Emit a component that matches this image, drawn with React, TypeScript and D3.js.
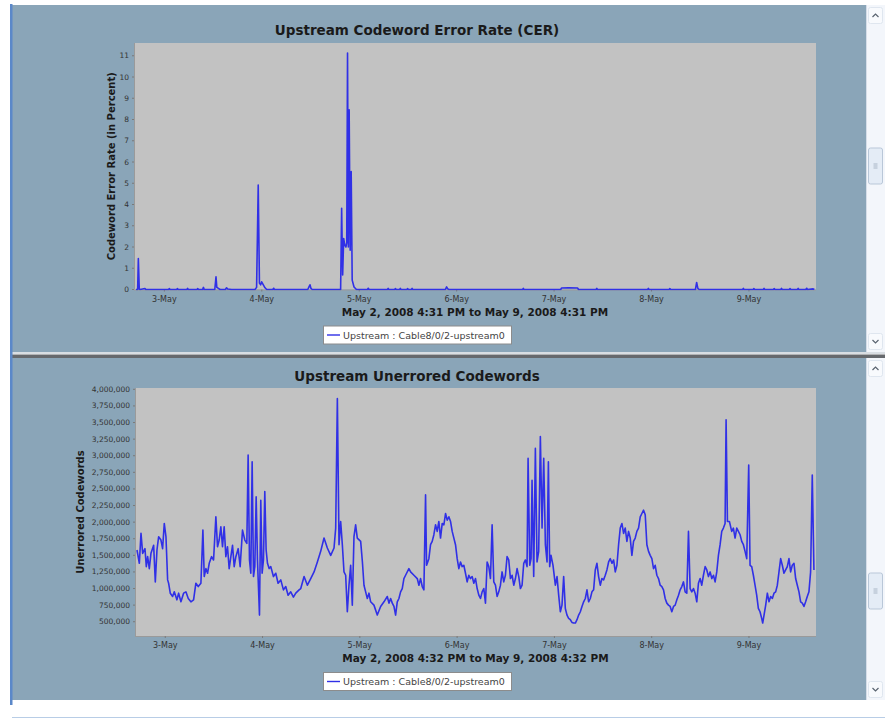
import React from "react";
import * as d3 from "d3";

const W = 885;
const H = 719;

// Both reports cover one week of polling.
const SPAN_HOURS = 168;
const CER_START = new Date(2008, 4, 2, 16, 31);
const CW_START = new Date(2008, 4, 2, 16, 32);

const DAY_TICKS = [3, 4, 5, 6, 7, 8, 9];
const CER_Y_TICKS = [0, 1, 2, 3, 4, 5, 6, 7, 8, 9, 10, 11];
const CW_Y_TICKS = [500000, 750000, 1000000, 1250000, 1500000, 1750000, 2000000, 2250000, 2500000, 2750000, 3000000, 3250000, 3500000, 3750000, 4000000];

const CER_TITLE = "Upstream Codeword Error Rate (CER)";
const CER_Y_LABEL = "Codeword Error Rate (in Percent)";
const CER_RANGE = "May 2, 2008 4:31 PM to May 9, 2008 4:31 PM";
const CW_TITLE = "Upstream Unerrored Codewords";
const CW_Y_LABEL = "Unerrored Codewords";
const CW_RANGE = "May 2, 2008 4:32 PM to May 9, 2008 4:32 PM";
const SERIES_NAME = "Upstream : Cable8/0/2-upstream0";

// [hours since start, error rate in percent]
const CER_SAMPLES: [number, number][] = [
  [0.5, 0], [0.9, 0], [1.07, 1.46], [1.3, 0.02], [1.5, 0], [2.7, 0.05], [2.9, 0],
  [8.5, 0], [8.7, 0.04], [8.9, 0], [10.5, 0], [10.7, 0.04], [10.9, 0], [13, 0], [13.2, 0.05], [13.4, 0],
  [15.5, 0], [15.7, 0.04], [15.9, 0], [16.9, 0], [17.1, 0.1], [17.3, 0], [19.9, 0], [20.2, 0.6],
  [20.4, 0.1], [20.8, 0.05], [21.2, 0], [22.5, 0], [22.8, 0.08], [23.1, 0.02], [24, 0],
  [29.8, 0], [30.2, 0.1], [30.6, 4.92], [30.9, 0.3], [31.2, 0.22], [31.45, 0.36], [31.86, 0.22],
  [32.27, 0.08], [32.7, 0], [34.2, 0], [34.4, 0.06], [34.6, 0], [42.8, 0], [43.1, 0.12], [43.35, 0.22],
  [43.6, 0.05], [43.9, 0], [50.9, 0], [51.15, 3.82], [51.4, 0.68], [51.65, 2.4], [51.9, 2.1],
  [52.2, 2.0], [52.4, 2.2], [52.6, 11.13], [52.8, 2.0], [53.0, 8.46], [53.25, 1.85], [53.5, 5.55],
  [53.75, 0.44], [54.2, 0.12], [54.8, 0], [57.5, 0], [57.7, 0.06], [57.9, 0], [62.4, 0], [62.6, 0.05],
  [62.8, 0], [64.2, 0], [64.4, 0.04], [64.6, 0], [65.4, 0], [65.6, 0.05], [65.8, 0], [67.2, 0],
  [67.4, 0.04], [67.6, 0], [68.3, 0], [68.5, 0.05], [68.7, 0], [76.7, 0], [77.0, 0.12], [77.3, 0.03],
  [77.6, 0], [95.7, 0], [95.9, 0.05], [96.1, 0], [105.1, 0], [105.3, 0.07], [107, 0.08], [109.3, 0.07],
  [109.5, 0], [113.8, 0], [114, 0.05], [114.2, 0], [126.5, 0], [126.7, 0.05], [126.9, 0], [131.8, 0],
  [132, 0.04], [132.2, 0], [138.3, 0], [138.6, 0.33], [138.9, 0.05], [139.2, 0], [149.9, 0],
  [150.1, 0.05], [150.3, 0], [152.5, 0], [152.7, 0.04], [152.9, 0], [155, 0], [155.2, 0.05], [155.4, 0],
  [157.5, 0], [157.7, 0.04], [157.9, 0], [159.3, 0], [159.5, 0.05], [159.7, 0], [161.4, 0],
  [161.6, 0.04], [161.8, 0], [163.4, 0], [163.6, 0.05], [163.8, 0], [165.5, 0], [165.7, 0.06],
  [165.9, 0], [167.3, 0.03], [167.6, 0],
];

// [hours since start, unerrored codewords]
const CODEWORD_SAMPLES: [number, number][] = [
  [0.49, 1.58e6], [1.07, 1.38e6], [1.48, 1.83e6], [1.89, 1.53e6], [2.46, 1.6e6], [2.79, 1.33e6],
  [3.12, 1.48e6], [3.53, 1.3e6], [3.94, 1.53e6], [4.6, 1.65e6], [5.01, 1.1e6], [5.42, 1.58e6],
  [5.83, 1.78e6], [6.4, 1.73e6], [6.81, 1.6e6], [7.22, 1.98e6], [7.64, 1.78e6], [8.05, 1.13e6],
  [8.29, 1.08e6], [8.7, 0.93e6], [9.28, 0.88e6], [9.69, 0.95e6], [10.34, 0.83e6], [10.76, 0.93e6],
  [11.33, 0.8e6], [11.99, 0.93e6], [12.56, 0.95e6], [13.14, 0.85e6], [13.79, 0.8e6], [14.45, 0.83e6],
  [15.02, 1.08e6], [15.6, 1.03e6], [16.26, 1.08e6], [16.75, 1.88e6], [17.08, 1.18e6], [17.49, 1.3e6],
  [17.9, 1.23e6], [18.31, 1.38e6], [18.88, 1.48e6], [19.38, 1.43e6], [19.95, 2.08e6], [20.36, 1.63e6],
  [20.77, 1.73e6], [21.18, 1.93e6], [21.59, 1.63e6], [22.0, 1.93e6], [22.41, 1.48e6], [22.82, 1.63e6],
  [23.23, 1.3e6], [23.65, 1.48e6], [24.06, 1.65e6], [24.47, 1.33e6], [24.88, 1.48e6], [25.45, 1.6e6],
  [25.94, 1.33e6], [26.52, 1.88e6], [27.09, 1.73e6], [27.59, 1.68e6], [27.91, 3.01e6], [28.24, 1.43e6],
  [28.57, 1.23e6], [28.9, 2.91e6], [29.23, 1.18e6], [29.56, 1.33e6], [29.89, 2.38e6], [30.21, 1.43e6],
  [30.71, 0.6e6], [31.03, 2.33e6], [31.36, 1.23e6], [31.69, 1.43e6], [32.02, 2.46e6], [32.35, 1.58e6],
  [32.68, 1.38e6], [33.09, 1.3e6], [33.5, 1.33e6], [34.15, 1.18e6], [34.73, 1.23e6], [35.3, 1.08e6],
  [35.96, 1.13e6], [36.62, 0.98e6], [37.19, 1.03e6], [37.77, 0.9e6], [38.42, 0.95e6], [39.08, 0.87e6],
  [39.66, 0.93e6], [40.48, 0.98e6], [40.89, 1.0e6], [41.71, 1.18e6], [42.53, 1.05e6], [43.35, 1.15e6],
  [44.17, 1.25e6], [44.99, 1.4e6], [45.81, 1.56e6], [46.63, 1.76e6], [47.45, 1.61e6], [48.28, 1.5e6],
  [49.1, 1.61e6], [49.51, 1.91e6], [49.92, 3.86e6], [50.33, 1.66e6], [50.74, 2.01e6], [51.15, 1.66e6],
  [51.56, 1.25e6], [51.97, 1.2e6], [52.38, 0.65e6], [52.79, 1.05e6], [53.2, 1.35e6], [53.61, 0.75e6],
  [54.02, 1.78e6], [54.43, 1.96e6], [54.84, 1.76e6], [55.67, 1.71e6], [56.1, 1.4e6], [56.49, 1.05e6],
  [56.9, 0.95e6], [57.31, 0.85e6], [57.72, 0.93e6], [58.13, 0.8e6], [58.95, 0.75e6], [59.77, 0.6e6],
  [60.6, 0.73e6], [61.42, 0.8e6], [62.24, 0.88e6], [62.65, 0.78e6], [63.06, 0.85e6], [63.47, 0.78e6],
  [63.88, 0.73e6], [64.29, 0.6e6], [64.7, 0.8e6], [65.11, 0.85e6], [65.52, 0.95e6], [65.93, 1.0e6],
  [66.34, 1.15e6], [66.75, 1.2e6], [67.57, 1.3e6], [67.99, 1.25e6], [68.81, 1.2e6], [69.63, 1.15e6],
  [70.04, 1.05e6], [70.45, 1.15e6], [70.86, 1.03e6], [71.27, 0.98e6], [71.68, 2.41e6], [71.93, 1.35e6],
  [72.5, 1.45e6], [72.91, 1.66e6], [73.32, 1.71e6], [73.73, 1.81e6], [74.14, 1.96e6], [74.55, 1.86e6],
  [74.96, 2.01e6], [75.37, 1.76e6], [75.79, 1.98e6], [76.2, 1.96e6], [76.61, 2.13e6], [77.02, 2.03e6],
  [77.43, 2.08e6], [77.84, 2.01e6], [78.25, 1.86e6], [79.07, 1.66e6], [79.48, 1.45e6], [79.89, 1.3e6],
  [80.3, 1.4e6], [80.71, 1.33e6], [81.12, 1.35e6], [81.53, 1.23e6], [81.94, 1.1e6], [82.35, 1.2e6],
  [82.76, 1.15e6], [83.17, 1.18e6], [83.59, 1.08e6], [84.0, 1.15e6], [84.41, 1.0e6], [84.82, 0.9e6],
  [85.23, 0.85e6], [85.64, 0.95e6], [86.05, 1.0e6], [86.46, 0.78e6], [86.87, 1.4e6], [87.28, 1.33e6],
  [87.69, 1.15e6], [88.1, 1.96e6], [88.51, 1.1e6], [88.92, 1.05e6], [89.33, 0.88e6], [89.74, 0.95e6],
  [90.15, 1.05e6], [90.56, 1.25e6], [90.97, 1.1e6], [91.38, 1.2e6], [91.79, 1.48e6], [92.2, 1.43e6],
  [92.62, 1.15e6], [93.03, 1.2e6], [93.44, 1.05e6], [93.85, 1.15e6], [94.26, 1.3e6], [94.67, 1.18e6],
  [95.08, 1.0e6], [95.49, 1.05e6], [95.9, 1.38e6], [96.31, 1.43e6], [96.72, 1.33e6], [96.97, 2.96e6],
  [97.38, 1.35e6], [97.71, 1.45e6], [97.95, 2.63e6], [98.36, 1.18e6], [98.77, 3.11e6], [99.18, 1.4e6],
  [99.59, 1.56e6], [100.0, 3.29e6], [100.42, 1.91e6], [100.83, 2.96e6], [101.24, 1.66e6], [101.65, 1.4e6],
  [101.98, 2.91e6], [102.3, 1.33e6], [102.63, 1.5e6], [103.12, 1.35e6], [103.7, 1.05e6], [104.11, 1.18e6],
  [104.52, 0.9e6], [104.93, 0.65e6], [105.34, 0.75e6], [105.75, 1.18e6], [106.16, 0.7e6], [106.57, 0.6e6],
  [106.98, 0.55e6], [107.39, 0.53e6], [107.8, 0.49e6], [108.21, 0.48e6], [108.63, 0.48e6], [109.04, 0.53e6],
  [109.45, 0.6e6], [109.86, 0.65e6], [110.27, 0.73e6], [110.68, 0.8e6], [111.09, 0.85e6], [111.5, 0.98e6],
  [111.91, 0.8e6], [112.32, 0.85e6], [112.73, 0.95e6], [113.14, 0.98e6], [113.55, 1.28e6], [113.96, 1.38e6],
  [114.37, 1.18e6], [114.78, 1.05e6], [115.19, 1.15e6], [115.6, 1.13e6], [116.01, 1.2e6], [116.42, 1.28e6],
  [116.84, 1.4e6], [117.25, 1.45e6], [117.66, 1.38e6], [118.07, 1.43e6], [118.48, 1.25e6], [118.89, 1.35e6],
  [119.3, 1.66e6], [119.71, 1.91e6], [120.12, 1.98e6], [120.53, 1.83e6], [120.94, 1.91e6], [121.35, 1.71e6],
  [121.76, 1.86e6], [122.17, 1.76e6], [122.58, 1.5e6], [122.99, 1.71e6], [123.4, 1.76e6], [123.81, 1.86e6],
  [124.22, 1.91e6], [124.64, 2.08e6], [125.05, 2.13e6], [125.46, 2.18e6], [125.87, 2.11e6], [126.28, 1.66e6],
  [126.69, 1.56e6], [127.1, 1.5e6], [127.51, 1.45e6], [127.92, 1.3e6], [128.33, 1.35e6], [128.74, 1.2e6],
  [129.15, 1.15e6], [129.56, 1.05e6], [129.97, 1.03e6], [130.38, 0.98e6], [130.79, 0.85e6], [131.2, 0.78e6],
  [131.61, 0.75e6], [132.02, 0.73e6], [132.43, 0.65e6], [132.85, 0.73e6], [133.26, 0.75e6], [133.67, 0.83e6],
  [134.08, 0.9e6], [134.49, 0.98e6], [134.9, 1.03e6], [135.31, 1.1e6], [135.72, 0.95e6], [136.13, 0.93e6],
  [136.54, 1.86e6], [136.95, 1.0e6], [137.36, 0.95e6], [137.77, 1.0e6], [138.18, 0.93e6], [138.59, 0.8e6],
  [139.0, 1.08e6], [139.41, 1.15e6], [139.82, 1.05e6], [140.23, 1.2e6], [140.65, 1.33e6], [141.06, 1.28e6],
  [141.47, 1.18e6], [141.88, 1.25e6], [142.29, 1.15e6], [142.7, 1.2e6], [143.11, 1.1e6], [143.52, 1.25e6],
  [143.93, 1.5e6], [144.34, 1.66e6], [144.75, 1.86e6], [145.16, 1.91e6], [145.57, 1.98e6], [145.82, 3.54e6],
  [146.15, 2.01e6], [146.64, 2.01e6], [147.21, 1.86e6], [147.62, 1.91e6], [148.03, 1.76e6], [148.45, 1.91e6],
  [148.86, 1.86e6], [149.27, 1.81e6], [149.68, 1.71e6], [150.09, 1.66e6], [150.5, 1.56e6], [150.91, 1.45e6],
  [151.4, 2.86e6], [151.73, 1.35e6], [152.14, 1.33e6], [152.55, 1.2e6], [152.96, 1.05e6], [153.37, 0.9e6],
  [153.78, 0.7e6], [154.19, 0.65e6], [154.6, 0.55e6], [154.85, 0.48e6], [155.18, 0.6e6], [155.59, 0.75e6],
  [156.0, 0.93e6], [156.41, 0.8e6], [156.82, 0.88e6], [157.23, 0.85e6], [157.64, 0.93e6], [158.05, 0.95e6],
  [158.46, 1.05e6], [158.87, 1.25e6], [159.28, 1.45e6], [159.69, 1.35e6], [160.1, 1.23e6], [160.51, 1.28e6],
  [160.92, 1.33e6], [161.33, 1.45e6], [161.74, 1.25e6], [162.15, 1.35e6], [162.57, 1.38e6], [162.98, 1.15e6],
  [163.39, 1.05e6], [163.8, 0.95e6], [164.21, 0.8e6], [164.62, 0.78e6], [165.03, 0.73e6], [165.44, 0.8e6],
  [165.85, 0.88e6], [166.26, 0.95e6], [166.67, 1.25e6], [167.08, 2.71e6], [167.49, 1.28e6],
];

const PANEL_BG = "#8aa5b8";
const PLOT_BG = "#c2c2c2";
const LINE_COLOR = "#3030e6";
const TEXT = "#1a1a1a";
const TICK_TEXT = "#333";
const FONT = "'DejaVu Sans', Verdana, sans-serif";

const dayFormat = d3.timeFormat("%-d-%b");
const countFormat = d3.format(",");

type Rect = { left: number; right: number; top: number; bottom: number };

type PanelProps = {
  id: string;
  plot: Rect;
  titleY: number;
  yLabelX: number;
  title: string;
  yLabel: string;
  rangeLabel: string;
  samples: [number, number][];
  start: Date;
  yDomain: [number, number];
  yTicks: number[];
  yFormat: (v: number) => string;
};

function ChartPanel(p: PanelProps) {
  const { plot } = p;
  const end = new Date(p.start.getTime() + SPAN_HOURS * 3600e3);
  const x = d3.scaleTime().domain([p.start, end]).range([plot.left, plot.right]);
  const y = d3.scaleLinear().domain(p.yDomain).range([plot.bottom, plot.top]);
  const at = (h: number) => new Date(p.start.getTime() + h * 3600e3);
  const line = d3
    .line<[number, number]>()
    .x((d) => x(at(d[0])))
    .y((d) => y(d[1]));
  const days = DAY_TICKS.map((d) => new Date(2008, 4, d));
  const cx = (plot.left + plot.right) / 2;
  const cy = (plot.top + plot.bottom) / 2;
  const legendY = plot.bottom + 36;

  return (
    <g fontFamily={FONT}>
      <text x={417} y={p.titleY} textAnchor="middle" fontWeight="bold" fontSize={13.5} fill={TEXT}>
        {p.title}
      </text>
      <clipPath id={`clip-${p.id}`}>
        <rect x={plot.left} y={plot.top} width={plot.right - plot.left} height={plot.bottom - plot.top + 1} />
      </clipPath>
      <rect x={plot.left} y={plot.top} width={plot.right - plot.left} height={plot.bottom - plot.top} fill={PLOT_BG} />
      <line x1={plot.left + 0.5} x2={plot.left + 0.5} y1={plot.top} y2={plot.bottom} stroke="#9a9a9a" />
      <line x1={plot.left} x2={plot.right} y1={plot.bottom + 0.5} y2={plot.bottom + 0.5} stroke="#9a9a9a" />

      {p.yTicks.map((t) => (
        <g key={t}>
          <line x1={plot.left - 2} x2={plot.left} y1={y(t)} y2={y(t)} stroke="#7a7a7a" />
          <text x={plot.left - 5} y={y(t)} dy="0.34em" textAnchor="end" fontSize={7.5} fill={TICK_TEXT}>
            {p.yFormat(t)}
          </text>
        </g>
      ))}
      {days.map((d) => (
        <g key={d.getTime()}>
          <line x1={x(d)} x2={x(d)} y1={plot.bottom} y2={plot.bottom + 2} stroke="#7a7a7a" />
          <text x={x(d)} y={plot.bottom + 12} textAnchor="middle" fontSize={8} fill={TICK_TEXT}>
            {dayFormat(d)}
          </text>
        </g>
      ))}

      <path
        d={line(p.samples) ?? ""}
        fill="none"
        stroke={LINE_COLOR}
        strokeWidth={1.6}
        strokeLinejoin="round"
        clipPath={`url(#clip-${p.id})`}
      />

      <text
        transform={`translate(${p.yLabelX},${cy}) rotate(-90)`}
        textAnchor="middle"
        fontWeight="bold"
        fontSize={10}
        fill={TEXT}
      >
        {p.yLabel}
      </text>
      <text x={cx} y={plot.bottom + 26} textAnchor="middle" fontWeight="bold" fontSize={10.5} fill={TEXT}>
        {p.rangeLabel}
      </text>

      <rect x={323.5} y={legendY + 0.5} width={188} height={18} fill="#fff" stroke="#8c8c8c" />
      <line x1={327} x2={340} y1={legendY + 9.5} y2={legendY + 9.5} stroke={LINE_COLOR} strokeWidth={1.4} />
      <text x={343} y={legendY + 13} fontSize={9.5} fill="#444">
        {SERIES_NAME}
      </text>
    </g>
  );
}

function ScrollBar({ top, bottom, thumbTop }: { top: number; bottom: number; thumbTop: number }) {
  const x0 = 866;
  const w = W - x0;
  const mid = x0 + w / 2;
  return (
    <g>
      <rect x={x0} y={top} width={w} height={bottom - top} fill="#f3f6fb" />
      <line x1={x0 + 0.5} x2={x0 + 0.5} y1={top} y2={bottom} stroke="#d5dde8" />
      <rect x={x0 + 2.5} y={top + 2.5} width={w - 5} height={16} rx={2} fill="#f8fafd" stroke="#dfe6ef" />
      <path d={`M${mid - 3},${top + 12} L${mid},${top + 9} L${mid + 3},${top + 12}`} fill="none" stroke="#5a6470" strokeWidth={1.2} />
      <rect x={x0 + 2.5} y={bottom - 18.5} width={w - 5} height={16} rx={2} fill="#f8fafd" stroke="#dfe6ef" />
      <path d={`M${mid - 3},${bottom - 12} L${mid},${bottom - 9} L${mid + 3},${bottom - 12}`} fill="none" stroke="#5a6470" strokeWidth={1.2} />
      <rect x={x0 + 2.5} y={thumbTop} width={w - 5} height={36} rx={2} fill="#e4ecf6" stroke="#b9c7d8" />
      <line x1={mid - 2} x2={mid + 2} y1={thumbTop + 16} y2={thumbTop + 16} stroke="#a9b6c6" />
      <line x1={mid - 2} x2={mid + 2} y1={thumbTop + 18} y2={thumbTop + 18} stroke="#a9b6c6" />
      <line x1={mid - 2} x2={mid + 2} y1={thumbTop + 20} y2={thumbTop + 20} stroke="#a9b6c6" />
    </g>
  );
}

export default function App() {
  return (
    <svg width={W} height={H} style={{ position: "absolute", left: 0, top: 0, display: "block" }}>
      <rect width={W} height={H} fill="#fff" />

      {/* report panels */}
      <rect x={12} y={5} width={854} height={347} fill={PANEL_BG} />
      <rect x={12} y={358} width={854} height={342} fill={PANEL_BG} />
      <rect x={12} y={352} width={873} height={2} fill="#d9dee3" />
      <rect x={12} y={354.5} width={873} height={3.5} fill="#66696d" />
      <rect x={10} y={4} width={2.5} height={701} fill="#5b88c9" />
      <line x1={12} x2={W} y1={717.5} y2={717.5} stroke="#b8cde6" />

      <ScrollBar top={5} bottom={352} thumbTop={148} />
      <ScrollBar top={358} bottom={700} thumbTop={573} />

      <ChartPanel
        id="cer"
        plot={{ left: 134, right: 816, top: 43, bottom: 289.5 }}
        titleY={35}
        yLabelX={115}
        title={CER_TITLE}
        yLabel={CER_Y_LABEL}
        rangeLabel={CER_RANGE}
        samples={CER_SAMPLES}
        start={CER_START}
        yDomain={[0, 11.6]}
        yTicks={CER_Y_TICKS}
        yFormat={(v) => String(v)}
      />
      <ChartPanel
        id="cw"
        plot={{ left: 135, right: 816, top: 388, bottom: 636 }}
        titleY={381}
        yLabelX={84}
        title={CW_TITLE}
        yLabel={CW_Y_LABEL}
        rangeLabel={CW_RANGE}
        samples={CODEWORD_SAMPLES}
        start={CW_START}
        yDomain={[285000, 4020000]}
        yTicks={CW_Y_TICKS}
        yFormat={(v) => countFormat(v)}
      />
    </svg>
  );
}
